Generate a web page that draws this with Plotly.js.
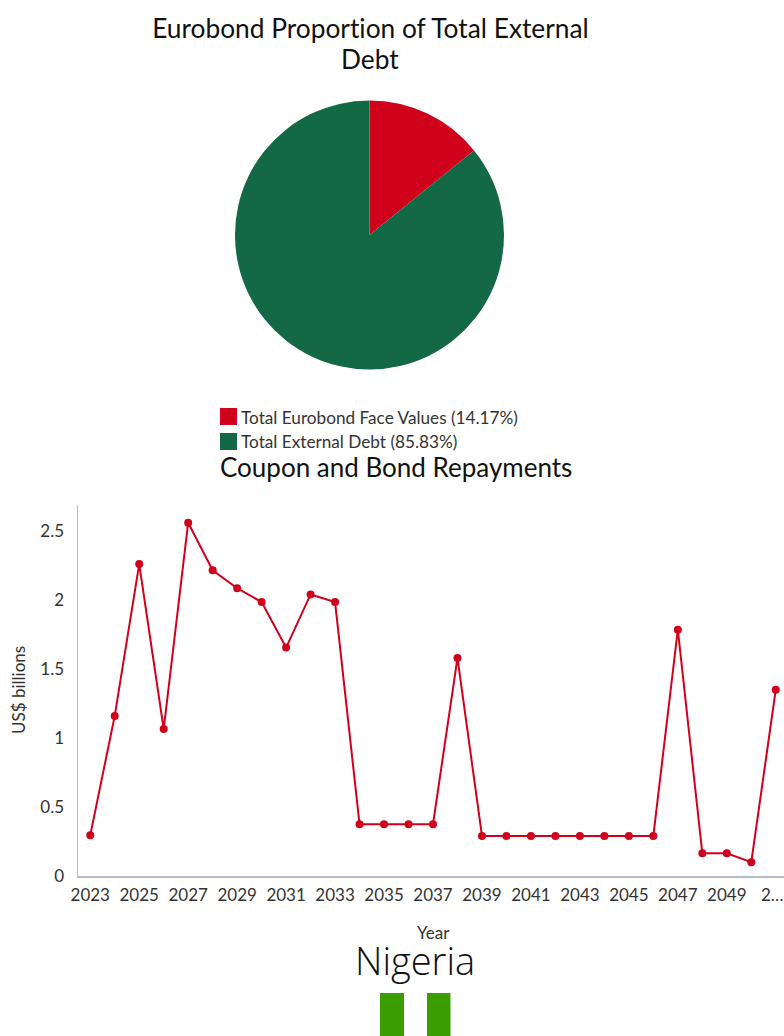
<!DOCTYPE html>
<html>
<head>
<meta charset="utf-8">
<script src="https://cdn.plot.ly/plotly-3.0.1.min.js"></script>
<style>html,body{margin:0;padding:0;background:#fff;overflow:hidden;width:784px;height:1036px}#c{width:788px;height:1036px}#c text{font-variant-ligatures:none !important;font-feature-settings:"liga" 0,"clig" 0 !important}</style>
</head>
<body>
<div id="c"></div>
<script>
var W = 788, H = 1036;
var pieLabels = ["Total Eurobond Face Values (14.17%)", "Total External Debt (85.83%)"];
var pieValues = [14.17, 85.83];
var pieColors = ["#d0021b", "#136845"];
var years = ["2023","2024","2025","2026","2027","2028","2029","2030","2031","2032","2033","2034","2035","2036","2037","2038","2039","2040","2041","2042","2043","2044","2045","2046","2047","2048","2049","2050","2051"];
var repayments = [0.295,1.16,2.26,1.065,2.56,2.215,2.085,1.985,1.655,2.04,1.985,0.375,0.375,0.375,0.375,1.58,0.29,0.29,0.29,0.29,0.29,0.29,0.29,0.29,1.785,0.165,0.165,0.10,1.35];
var xTickVals = ["2023","2025","2027","2029","2031","2033","2035","2037","2039","2041","2043","2045","2047","2049"];
var xTickText = ["2023","2025","2027","2029","2031","2033","2035","2037","2039","2041","2043","2045","2047","2049"];
var lastTickLabel = "2\u2026";
var yTickVals = [0,0.5,1,1.5,2,2.5];
var yTickText = ["0","0.5","1","1.5","2","2.5"];
var font = "Lato, sans-serif";
function px(x){return x/W;}
function py(y){return 1-y/H;}
var traces = [
 {type:"pie", labels:pieLabels, values:pieValues, sort:false, direction:"clockwise", rotation:0, showlegend:false,
  marker:{colors:pieColors, line:{width:0}}, textinfo:"none", hoverinfo:"label",
  domain:{x:[px(235),px(504)], y:[py(370),py(100)]}, automargin:false},
 {type:"scatter", mode:"lines+markers", x:years, y:repayments, showlegend:false,
  line:{color:"#d0021b", width:2}, marker:{color:"#d0021b", size:8}, xaxis:"x", yaxis:"y"}
];
var layout = {
 width:W, height:H, margin:{l:0,r:0,t:0,b:0}, paper_bgcolor:"#fff", plot_bgcolor:"#fff",
 font:{family:font, color:"#333", size:15},
 showlegend:false,
 xaxis:{domain:[px(78),1], anchor:"y", type:"category", categoryorder:"array", categoryarray:years, range:[-0.5,28.5],
   tickmode:"array", tickvals:xTickVals, ticktext:xTickText, showgrid:false, zeroline:false, showline:true, linecolor:"#b8bcc4", linewidth:1.5, ticks:"",
   tickfont:{size:17,color:"#333",family:font}, tickangle:0, ticklabelstandoff:3},
 yaxis:{domain:[py(876),py(505)], anchor:"x", range:[0,2.688], tickmode:"array", tickvals:yTickVals, ticktext:yTickText, showgrid:false, zeroline:false, showline:true, linecolor:"#b8bcc4", linewidth:1.5, ticks:"",
   tickfont:{size:17,color:"#333",family:font}, ticklabelstandoff:9},
 annotations:[
  {text:"Eurobond Proportion of Total External", xref:"paper", yref:"paper", x:px(370), y:py(28), xanchor:"center", yanchor:"middle", showarrow:false, font:{size:26.3,color:"#111",family:font}},
  {text:"Debt", xref:"paper", yref:"paper", x:px(370), y:py(59), xanchor:"center", yanchor:"middle", showarrow:false, font:{size:26.3,color:"#111",family:font}},
  {text:"Coupon and Bond Repayments", xref:"paper", yref:"paper", x:px(396), y:py(467), xanchor:"center", yanchor:"middle", showarrow:false, font:{size:26,color:"#111",family:font}},
  {text:pieLabels[0], xref:"paper", yref:"paper", x:px(239), y:py(418), xanchor:"left", yanchor:"middle", showarrow:false, font:{size:17.2,color:"#333",family:font}},
  {text:pieLabels[1], xref:"paper", yref:"paper", x:px(239), y:py(442), xanchor:"left", yanchor:"middle", showarrow:false, font:{size:17.2,color:"#333",family:font}},
  {text:lastTickLabel, xref:"paper", yref:"paper", x:px(759), y:py(894), xanchor:"left", yanchor:"middle", showarrow:false, font:{size:17,color:"#333",family:font}},
  {text:"Year", xref:"paper", yref:"paper", x:px(433), y:py(932), xanchor:"center", yanchor:"middle", showarrow:false, font:{size:17,color:"#333",family:font}},
  {text:"US$ billions", xref:"paper", yref:"paper", x:px(18), y:py(690), xanchor:"center", yanchor:"middle", textangle:-90, showarrow:false, font:{size:17,color:"#333",family:font}},
  {text:"Nigeria", xref:"paper", yref:"paper", x:px(415), y:py(960), xanchor:"center", yanchor:"middle", showarrow:false, font:{size:38,color:"#111",family:"Open Sans, sans-serif",weight:300}}
 ],
 shapes:[
  {type:"rect", xref:"paper", yref:"paper", x0:px(220), x1:px(237), y0:py(408), y1:py(425), fillcolor:pieColors[0], line:{width:0}},
  {type:"rect", xref:"paper", yref:"paper", x0:px(220), x1:px(237), y0:py(433), y1:py(450), fillcolor:pieColors[1], line:{width:0}},
  {type:"rect", xref:"paper", yref:"paper", x0:px(380), x1:px(404), y0:py(993), y1:py(1036), fillcolor:"#3a9e00", line:{width:0}},
  {type:"rect", xref:"paper", yref:"paper", x0:px(427), x1:px(450.5), y0:py(993), y1:py(1036), fillcolor:"#3a9e00", line:{width:0}}
 ]
};
Plotly.newPlot("c", traces, layout, {displayModeBar:false, staticPlot:true});
</script>
</body>
</html>
